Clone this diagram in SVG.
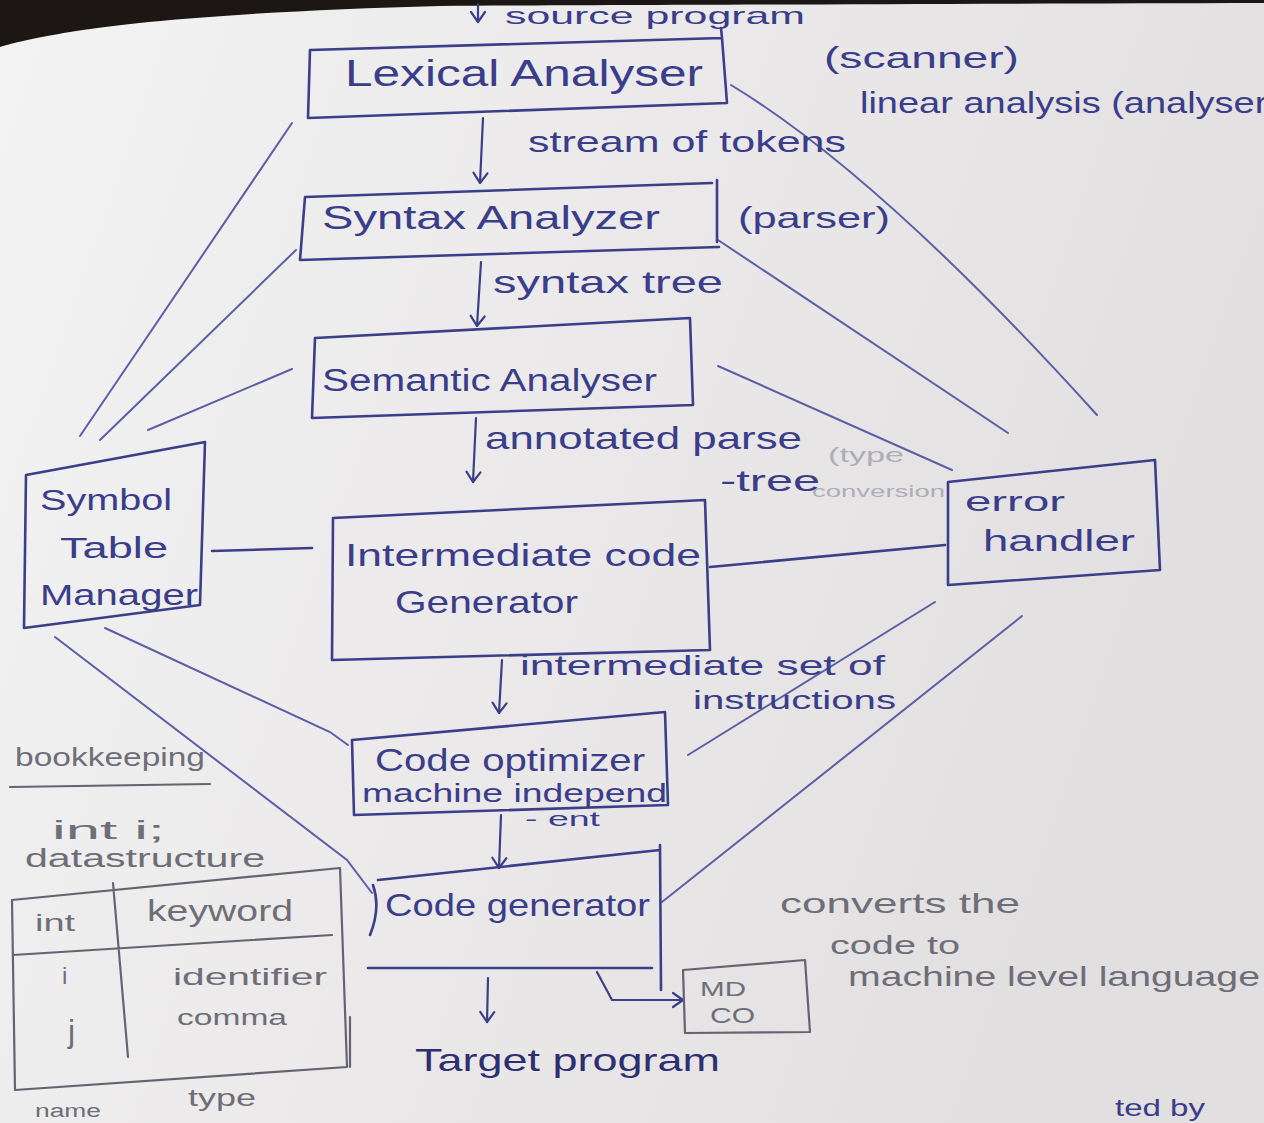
<svg xmlns="http://www.w3.org/2000/svg" width="1264" height="1123" viewBox="0 0 1264 1123">
<defs>
<style>
.box{fill:none;stroke:#3b3e88;stroke-width:2.6;stroke-linejoin:round;stroke-linecap:round}
.gbox{fill:none;stroke:#646470;stroke-width:2.2;stroke-linejoin:round;stroke-linecap:round}
.fan{fill:none;stroke:#5a5fa6;stroke-width:2;stroke-linecap:round}
.arr{fill:none;stroke:#3b3e88;stroke-width:2.2;stroke-linecap:round;marker-end:url(#ah)}
.ink{font-family:'Liberation Sans',Arial,sans-serif;fill:#3a3d8a}
.dark{font-family:'Liberation Sans',Arial,sans-serif;fill:#2d2f70}
.pen{font-family:'Liberation Sans',Arial,sans-serif;fill:#6e6e78}
.faint{font-family:'Liberation Sans',Arial,sans-serif;fill:#aeaeb6}
</style>
<marker id="ah" viewBox="-12 -9 14 18" refX="0" refY="0" markerWidth="14" markerHeight="18" markerUnits="userSpaceOnUse" orient="auto">
<path d="M-10,-7 L0,0 L-10,7" fill="none" stroke="#3b3e88" stroke-width="2.2" stroke-linecap="round" stroke-linejoin="round"/>
</marker>
<linearGradient id="paper" x1="0" y1="0" x2="1" y2="0.3">
<stop offset="0" stop-color="#f3f3f3"/>
<stop offset="0.5" stop-color="#ebe9ea"/>
<stop offset="1" stop-color="#e1dfe0"/>
</linearGradient>
</defs>
<rect x="0" y="0" width="1264" height="1123" fill="url(#paper)"/>
<path d="M0,0 L1264,0 L1264,3 C900,4 600,5 440,6 C280,10 140,20 70,32 C35,38 12,43 0,47 Z" fill="#1c1614"/>

<g id="connectors">
<path class="fan" d="M80,436 L292,123"/>
<path class="fan" d="M100,440 L296,250"/>
<path class="fan" d="M148,430 L292,369"/>
<path class="fan" d="M105,628 L330,732 L348,745"/>
<path class="fan" d="M55,637 L347,860 L372,893"/>
<path class="fan" d="M731,85 Q880,175 1097,415"/>
<path class="fan" d="M718,240 L1008,433"/>
<path class="fan" d="M718,366 L952,470"/>
<path class="fan" d="M935,602 L688,755"/>
<path class="fan" d="M1022,616 L662,902"/>
<path class="box" d="M212,551 L312,548"/>
<path class="box" d="M710,567 L945,545"/>
<path class="arr" d="M478,4 L478,22"/>
<path class="arr" d="M483,118 L480,183"/>
<path class="arr" d="M481,262 L477,326"/>
<path class="arr" d="M476,418 L473,482"/>
<path class="arr" d="M502,660 L499,713"/>
<path class="arr" d="M501,815 L499,868"/>
<path class="arr" d="M488,978 L487,1022"/>
<path class="arr" d="M597,972 L612,1000 L683,1000"/>
</g>

<g id="source">
<text class="ink" x="505" y="24" font-size="24" textLength="300" lengthAdjust="spacingAndGlyphs">source program</text>
</g>

<g id="lexical">
<path class="box" d="M310,50 L722,38 L727,103 L308,118 Z M722,38 L721,28"/>
<text class="ink" x="345" y="86" font-size="36" textLength="358" lengthAdjust="spacingAndGlyphs">Lexical Analyser</text>
</g>
<g id="lexical-notes">
<text class="ink" x="824" y="68" font-size="30" textLength="195" lengthAdjust="spacingAndGlyphs">(scanner)</text>
<text class="ink" x="860" y="113" font-size="30" textLength="420" lengthAdjust="spacingAndGlyphs">linear analysis (analyser)</text>
<text class="ink" x="528" y="152" font-size="30" textLength="318" lengthAdjust="spacingAndGlyphs">stream of tokens</text>
</g>

<g id="syntax">
<path class="box" d="M305,197 L712,183 M717,180 L717,242 M300,260 L719,247 M305,197 L300,260"/>
<text class="ink" x="322" y="229" font-size="33" textLength="338" lengthAdjust="spacingAndGlyphs">Syntax Analyzer</text>
</g>
<g id="syntax-notes">
<text class="ink" x="738" y="228" font-size="30" textLength="152" lengthAdjust="spacingAndGlyphs">(parser)</text>
<text class="ink" x="493" y="293" font-size="32" textLength="230" lengthAdjust="spacingAndGlyphs">syntax tree</text>
</g>

<g id="semantic">
<path class="box" d="M315,338 L690,318 L693,405 L312,418 Z"/>
<text class="ink" x="322" y="391" font-size="31" textLength="335" lengthAdjust="spacingAndGlyphs">Semantic Analyser</text>
</g>
<g id="semantic-notes">
<text class="ink" x="485" y="449" font-size="32" textLength="317" lengthAdjust="spacingAndGlyphs">annotated parse</text>
<text class="ink" x="720" y="491" font-size="30" textLength="100" lengthAdjust="spacingAndGlyphs">-tree</text>
<text class="faint" x="828" y="462" font-size="20" textLength="76" lengthAdjust="spacingAndGlyphs">(type</text>
<text class="faint" x="812" y="497" font-size="16" textLength="133" lengthAdjust="spacingAndGlyphs">conversion</text>
</g>

<g id="symbol-table">
<path class="box" d="M26,475 L205,442 L200,605 L24,628 Z"/>
<text class="ink" x="40" y="510" font-size="30" textLength="132" lengthAdjust="spacingAndGlyphs">Symbol</text>
<text class="ink" x="60" y="558" font-size="30" textLength="108" lengthAdjust="spacingAndGlyphs">Table</text>
<text class="ink" x="40" y="605" font-size="30" textLength="158" lengthAdjust="spacingAndGlyphs">Manager</text>
</g>

<g id="intermediate">
<path class="box" d="M333,518 L705,500 L710,650 L332,660 Z"/>
<text class="ink" x="345" y="566" font-size="32" textLength="356" lengthAdjust="spacingAndGlyphs">Intermediate code</text>
<text class="ink" x="395" y="613" font-size="32" textLength="183" lengthAdjust="spacingAndGlyphs">Generator</text>
</g>

<g id="error-handler">
<path class="box" d="M948,482 L1155,460 L1160,570 L948,585 Z"/>
<text class="ink" x="965" y="511" font-size="28" textLength="100" lengthAdjust="spacingAndGlyphs">error</text>
<text class="ink" x="983" y="551" font-size="30" textLength="152" lengthAdjust="spacingAndGlyphs">handler</text>
</g>

<g id="ic-notes">
<text class="ink" x="520" y="675" font-size="28" textLength="365" lengthAdjust="spacingAndGlyphs">intermediate set of</text>
<text class="ink" x="693" y="709" font-size="26" textLength="203" lengthAdjust="spacingAndGlyphs">instructions</text>
</g>

<g id="code-optimizer">
<path class="box" d="M352,740 L665,712 L668,805 L354,815 Z"/>
<text class="ink" x="375" y="771" font-size="32" textLength="270" lengthAdjust="spacingAndGlyphs">Code optimizer</text>
<text class="ink" x="362" y="802" font-size="26" textLength="305" lengthAdjust="spacingAndGlyphs">machine independ</text>
<text class="ink" x="525" y="826" font-size="20" textLength="75" lengthAdjust="spacingAndGlyphs">- ent</text>
</g>

<g id="code-generator">
<path class="box" d="M378,880 L660,850 M660,845 L661,990 M368,968 L652,968 M373,885 Q381,908 370,935"/>
<text class="ink" x="385" y="916" font-size="32" textLength="265" lengthAdjust="spacingAndGlyphs">Code generator</text>
</g>

<g id="target">
<text class="dark" x="415" y="1071" font-size="32" textLength="305" lengthAdjust="spacingAndGlyphs">Target program</text>
</g>

<g id="mdco">
<path class="gbox" d="M683,970 L805,960 L810,1032 L685,1033 Z"/>
<text class="pen" x="700" y="996" font-size="20" textLength="46" lengthAdjust="spacingAndGlyphs">MD</text>
<text class="pen" x="710" y="1023" font-size="22" textLength="45" lengthAdjust="spacingAndGlyphs">CO</text>
</g>

<g id="cg-notes">
<text class="pen" x="780" y="913" font-size="28" textLength="240" lengthAdjust="spacingAndGlyphs">converts the</text>
<text class="pen" x="830" y="954" font-size="26" textLength="130" lengthAdjust="spacingAndGlyphs">code to</text>
<text class="pen" x="848" y="986" font-size="28" textLength="412" lengthAdjust="spacingAndGlyphs">machine level language</text>
</g>

<g id="bookkeeping">
<text class="pen" x="15" y="766" font-size="26" textLength="190" lengthAdjust="spacingAndGlyphs">bookkeeping</text>
<path class="gbox" d="M10,787 L210,784" stroke-width="2"/>
<text class="pen" x="52" y="839" font-size="26" textLength="113" lengthAdjust="spacingAndGlyphs">int i;</text>
<text class="pen" x="25" y="867" font-size="26" textLength="240" lengthAdjust="spacingAndGlyphs">datastructure</text>
</g>

<g id="table">
<path class="gbox" d="M12,900 L340,868 L347,1067 L15,1090 Z M13,955 L332,935 M113,883 L128,1057"/>
<path class="gbox" d="M350,1017 L350,1067" stroke-width="3"/>
<text class="pen" x="35" y="931" font-size="24" textLength="40" lengthAdjust="spacingAndGlyphs">int</text>
<text class="pen" x="147" y="921" font-size="30" textLength="146" lengthAdjust="spacingAndGlyphs">keyword</text>
<text class="pen" x="62" y="984" font-size="24">i</text>
<text class="pen" x="173" y="985" font-size="24" textLength="154" lengthAdjust="spacingAndGlyphs">identifier</text>
<text class="pen" x="177" y="1025" font-size="22" textLength="110" lengthAdjust="spacingAndGlyphs">comma</text>
<text class="pen" x="68" y="1042" font-size="32">j</text>
<text class="pen" x="188" y="1106" font-size="24" textLength="68" lengthAdjust="spacingAndGlyphs">type</text>
<text class="pen" x="35" y="1117" font-size="18" textLength="66" lengthAdjust="spacingAndGlyphs">name</text>
</g>

<g id="footer">
<text class="ink" x="1115" y="1116" font-size="24" textLength="90" lengthAdjust="spacingAndGlyphs">ted by</text>
</g>
</svg>
